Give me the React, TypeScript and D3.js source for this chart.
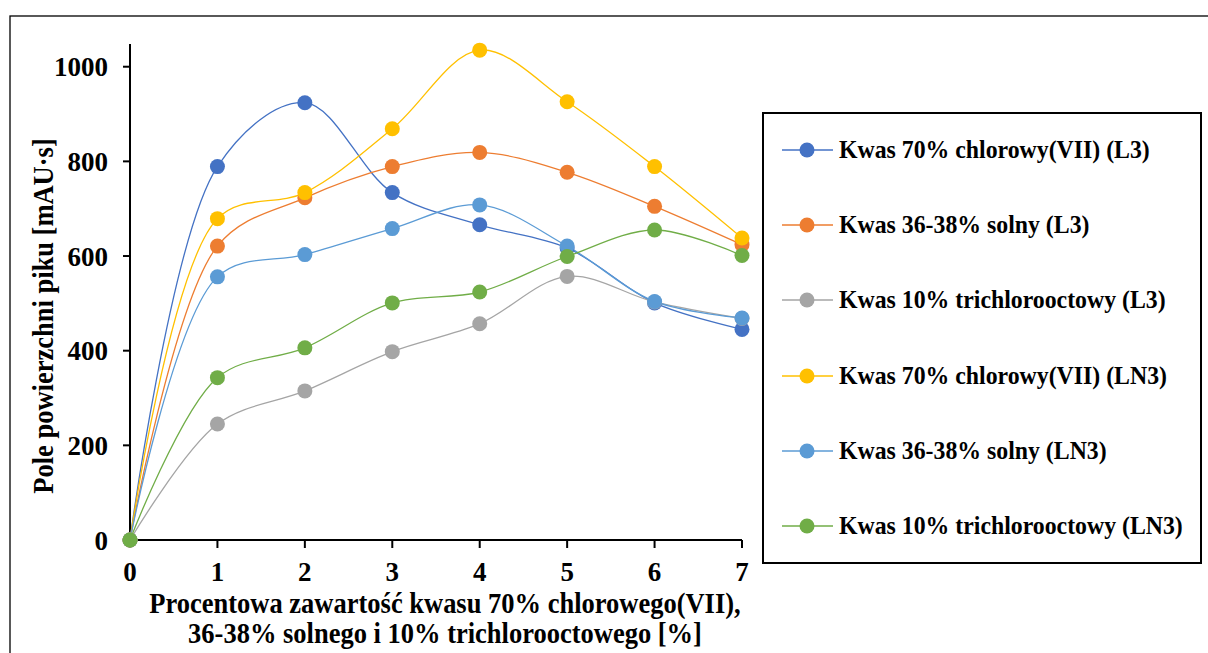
import React from "react";
import * as d3 from "d3";

// Acid concentration (%) on the x axis
const concentrations = [0, 1, 2, 3, 4, 5, 6, 7];

// Peak areas [mAU·s] for each extraction series
const chlorowyL3 = [0, 789, 924, 734, 666, 617, 501, 445];
const solnyL3 = [0, 621, 723, 789, 819, 777, 705, 624];
const trichloroL3 = [0, 245, 315, 398, 457, 557, 503, 468];
const chlorowyLN3 = [0, 679, 734, 869, 1035, 926, 789, 638];
const solnyLN3 = [0, 556, 603, 658, 708, 621, 504, 469];
const trichloroLN3 = [0, 343, 406, 501, 524, 599, 655, 601];

const seriesNames = [
  "Kwas 70% chlorowy(VII) (L3)",
  "Kwas 36-38% solny (L3)",
  "Kwas 10% trichlorooctowy (L3)",
  "Kwas 70% chlorowy(VII) (LN3)",
  "Kwas 36-38% solny (LN3)",
  "Kwas 10% trichlorooctowy (LN3)",
];
const seriesValues = [chlorowyL3, solnyL3, trichloroL3, chlorowyLN3, solnyLN3, trichloroLN3];
const seriesColors = ["#4472C4", "#ED7D31", "#A5A5A5", "#FFC000", "#5B9BD5", "#70AD47"];

const yTicks = [0, 200, 400, 600, 800, 1000];

const FONT = "Liberation Serif, Times New Roman, serif";

export default function App() {
  const width = 1208;
  const height = 653;

  const x = d3.scaleLinear().domain([0, 7]).range([130, 742]);
  const y = d3.scaleLinear().domain([0, 1048]).range([540, 44]);

  const line = d3
    .line<number>()
    .x((_, i) => x(concentrations[i]))
    .y((d) => y(d))
    .curve(d3.curveCatmullRom.alpha(0.5));

  const legendX = 763;
  const legendY = 113;
  const legendW = 438;
  const legendH = 450;
  const legendRowY = [150, 225, 300, 376, 451, 526];

  // slightly tall text, as in the original figure
  const tall = (tx: number, ty: number, k: number) =>
    `translate(${tx},${ty}) scale(1,${k})`;

  return (
    <svg
      width={width}
      height={height}
      style={{ position: "absolute", left: 0, top: 0, background: "#fff" }}
      fontFamily={FONT}
      fontWeight="bold"
    >
      {/* outer chart frame */}
      <rect x={10} y={16} width={1220} height={660} fill="#fff" stroke="#000" strokeWidth={1.3} />

      {/* y axis */}
      <line x1={130} x2={130} y1={44} y2={540} stroke="#000" strokeWidth={2} />
      {yTicks.map((t) => (
        <g key={"yt" + t}>
          <line x1={123} x2={130} y1={y(t)} y2={y(t)} stroke="#000" strokeWidth={2} />
          <text
            transform={tall(108, y(t) + 9.5, 1.04)}
            textAnchor="end"
            fontSize={27}
          >
            {t}
          </text>
        </g>
      ))}

      {/* x axis */}
      <line x1={130} x2={742} y1={540} y2={540} stroke="#000" strokeWidth={2} />
      {concentrations.map((c) => (
        <g key={"xt" + c}>
          <line x1={x(c)} x2={x(c)} y1={540} y2={548} stroke="#000" strokeWidth={2} />
          <text transform={tall(x(c), 581, 1.04)} textAnchor="middle" fontSize={27}>
            {c}
          </text>
        </g>
      ))}

      {/* axis titles */}
      <text
        transform={`translate(53,316) rotate(-90) scale(1,1.12)`}
        textAnchor="middle"
        fontSize={26.5}
      >
        Pole powierzchni piku [mAU·s]
      </text>
      <text transform={tall(445, 613, 1.14)} textAnchor="middle" fontSize={26.5}>
        Procentowa zawartość kwasu 70% chlorowego(VII),
      </text>
      <text transform={tall(445, 643, 1.14)} textAnchor="middle" fontSize={26.5}>
        36-38% solnego i 10% trichlorooctowego [%]
      </text>

      {/* series lines */}
      {seriesValues.map((vals, s) => (
        <path
          key={"l" + s}
          d={line(vals) || ""}
          fill="none"
          stroke={seriesColors[s]}
          strokeWidth={1.3}
        />
      ))}
      {/* series markers */}
      {seriesValues.map((vals, s) => (
        <g key={"m" + s}>
          {vals.map((v, i) => (
            <circle
              key={i}
              cx={x(concentrations[i])}
              cy={y(v)}
              r={7.5}
              fill={seriesColors[s]}
            />
          ))}
        </g>
      ))}

      {/* legend */}
      <rect
        x={legendX}
        y={legendY}
        width={legendW}
        height={legendH}
        fill="#fff"
        stroke="#000"
        strokeWidth={2}
      />
      {seriesNames.map((name, s) => (
        <g key={"lg" + s}>
          <line
            x1={782}
            x2={833}
            y1={legendRowY[s]}
            y2={legendRowY[s]}
            stroke={seriesColors[s]}
            strokeWidth={1.5}
          />
          <circle cx={807} cy={legendRowY[s]} r={7.5} fill={seriesColors[s]} />
          <text transform={tall(839, legendRowY[s] + 8, 1.05)} fontSize={23.8}>
            {name}
          </text>
        </g>
      ))}
    </svg>
  );
}
